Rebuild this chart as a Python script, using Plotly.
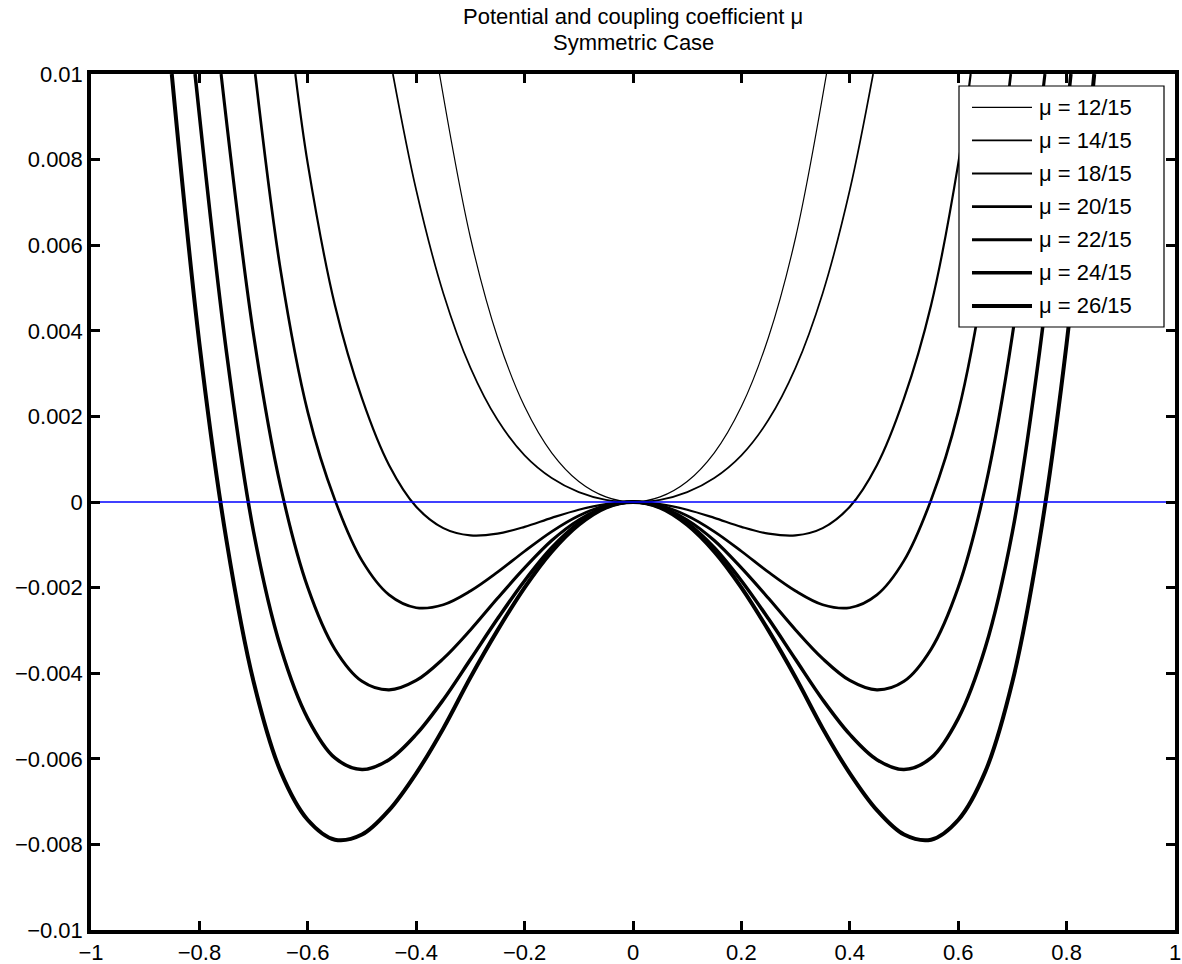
import plotly.graph_objects as go

# ---------------------------------------------------------------
# Potential curves V(x) for several coupling coefficients mu
# ---------------------------------------------------------------
mu_labels = ["μ = 12/15", "μ = 14/15", "μ = 18/15", "μ = 20/15",
             "μ = 22/15", "μ = 24/15", "μ = 26/15"]

x_12 = [-0.357, -0.3, -0.25, -0.2, -0.15, -0.1, -0.05, 0.0,
        0.05, 0.1, 0.15, 0.2, 0.25, 0.3, 0.357]
v_12 = [0.010, 0.00618, 0.00385, 0.00223, 0.00115, 0.00048, 0.00012, 0.0,
        0.00012, 0.00048, 0.00115, 0.00223, 0.00385, 0.00618, 0.010]

x_14 = [-0.443, -0.4, -0.35, -0.3, -0.25, -0.2, -0.15, -0.1, -0.05, 0.0,
        0.05, 0.1, 0.15, 0.2, 0.25, 0.3, 0.35, 0.4, 0.443]
v_14 = [0.010, 0.00729, 0.00488, 0.00314, 0.00192, 0.00109, 0.00056, 0.00023, 0.00005, 0.0,
        0.00005, 0.00023, 0.00056, 0.00109, 0.00192, 0.00314, 0.00488, 0.00729, 0.010]

x_18 = [-0.623, -0.6, -0.55, -0.5, -0.45, -0.4, -0.35, -0.3, -0.25, -0.2,
        -0.15, -0.1, -0.05, 0.0,
        0.05, 0.1, 0.15, 0.2, 0.25, 0.3, 0.35, 0.4, 0.45, 0.5,
        0.55, 0.6, 0.623]
v_18 = [0.010, 0.0079, 0.0046, 0.00242, 0.00086, -0.00011, -0.00061, -0.00078, -0.00074, -0.00058,
        -0.00037, -0.00018, -0.00005, 0.0,
        -0.00005, -0.00018, -0.00037, -0.00058, -0.00074, -0.00078, -0.00061, -0.00011, 0.00086, 0.00242,
        0.0046, 0.0079, 0.010]

x_20 = [-0.697, -0.65, -0.6, -0.55, -0.5, -0.45, -0.4, -0.35, -0.3, -0.25,
        -0.2, -0.15, -0.1, -0.05, 0.0,
        0.05, 0.1, 0.15, 0.2, 0.25, 0.3, 0.35, 0.4, 0.45, 0.5,
        0.55, 0.6, 0.65, 0.697]
v_20 = [0.010, 0.0054, 0.0021, 0.00005, -0.00137, -0.00217, -0.00247, -0.0024, -0.00208, -0.00164,
        -0.00115, -0.00069, -0.00032, -0.00008, 0.0,
        -0.00008, -0.00032, -0.00069, -0.00115, -0.00164, -0.00208, -0.0024, -0.00247, -0.00217, -0.00137,
        0.00005, 0.0021, 0.0054, 0.010]

x_22 = [-0.76, -0.7, -0.65, -0.6, -0.55, -0.5, -0.45, -0.4, -0.35, -0.3,
        -0.25, -0.2, -0.15, -0.1, -0.05, 0.0,
        0.05, 0.1, 0.15, 0.2, 0.25, 0.3, 0.35, 0.4, 0.45, 0.5,
        0.55, 0.6, 0.65, 0.7, 0.76]
v_22 = [0.010, 0.0039, 0.00035, -0.002, -0.00344, -0.00419, -0.00439, -0.00417, -0.00366, -0.00299,
        -0.00225, -0.00154, -0.0009, -0.00042, -0.00011, 0.0,
        -0.00011, -0.00042, -0.0009, -0.00154, -0.00225, -0.00299, -0.00366, -0.00417, -0.00439, -0.00419,
        -0.00344, -0.002, 0.00035, 0.0039, 0.010]

x_24 = [-0.808, -0.75, -0.7, -0.65, -0.6, -0.55, -0.5, -0.45, -0.4, -0.35,
        -0.3, -0.25, -0.2, -0.15, -0.1, -0.05, 0.0,
        0.05, 0.1, 0.15, 0.2, 0.25, 0.3, 0.35, 0.4, 0.45,
        0.5, 0.55, 0.6, 0.65, 0.7, 0.75, 0.808]
v_24 = [0.010, 0.0035, -0.0007, -0.0034, -0.00506, -0.00598, -0.00625, -0.00602, -0.00543, -0.00462,
        -0.00368, -0.00273, -0.00184, -0.00107, -0.00049, -0.00012, 0.0,
        -0.00012, -0.00049, -0.00107, -0.00184, -0.00273, -0.00368, -0.00462, -0.00543, -0.00602,
        -0.00625, -0.00598, -0.00506, -0.0034, -0.0007, 0.0035, 0.010]

x_26 = [-0.851, -0.8, -0.75, -0.7, -0.65, -0.6, -0.55, -0.5, -0.45, -0.4,
        -0.35, -0.3, -0.25, -0.2, -0.15, -0.1, -0.05, 0.0,
        0.05, 0.1, 0.15, 0.2, 0.25, 0.3, 0.35, 0.4, 0.45,
        0.5, 0.55, 0.6, 0.65, 0.7, 0.75, 0.8, 0.851]
v_26 = [0.010, 0.0037, -0.0009, -0.0042, -0.0063, -0.00743, -0.00789, -0.00777, -0.0072, -0.00634,
        -0.00529, -0.0041, -0.003, -0.002, -0.00116, -0.00053, -0.00013, 0.0,
        -0.00013, -0.00053, -0.00116, -0.002, -0.003, -0.0041, -0.00529, -0.00634, -0.0072,
        -0.00777, -0.00789, -0.00743, -0.0063, -0.0042, -0.0009, 0.0037, 0.010]

# reference level V = 0
x_zero = [-1.0, 1.0]
v_zero = [0.0, 0.0]

x_ticks = [-1, -0.8, -0.6, -0.4, -0.2, 0, 0.2, 0.4, 0.6, 0.8, 1]
x_tick_labels = ["−1", "−0.8", "−0.6", "−0.4", "−0.2", "0", "0.2", "0.4", "0.6", "0.8", "1"]
y_ticks = [0.01, 0.008, 0.006, 0.004, 0.002, 0, -0.002, -0.004, -0.006, -0.008, -0.01]
y_tick_labels = ["0.01", "0.008", "0.006", "0.004", "0.002", "0",
                 "−0.002", "−0.004", "−0.006", "−0.008", "−0.01"]

curves = [(x_12, v_12), (x_14, v_14), (x_18, v_18), (x_20, v_20),
          (x_22, v_22), (x_24, v_24), (x_26, v_26)]
widths = [1.2, 1.7, 2.2, 2.7, 3.1, 3.5, 4.0]

FONT = "Liberation Sans, Arial, Helvetica, sans-serif"
W, H = 1182, 964
L, R, T, B = 91, 1175, 74, 930          # plot area in pixels


def px_x(p):
    return (p - L) / (R - L)


def px_y(p):
    return (B - p) / (B - T)


fig = go.Figure()
for (xs, vs), w, name in zip(curves, widths, mu_labels):
    fig.add_trace(go.Scatter(x=xs, y=vs, mode="lines", name=name,
                             line=dict(color="black", width=w, shape="spline", smoothing=1.0),
                             showlegend=False, hoverinfo="skip"))
fig.add_trace(go.Scatter(x=x_zero, y=v_zero, mode="lines",
                         line=dict(color="#0000ff", width=1.5),
                         showlegend=False, hoverinfo="skip"))

axis_common = dict(showgrid=False, zeroline=False, showline=True, linecolor="black",
                   linewidth=3.5, mirror="ticks", ticks="inside", ticklen=9,
                   tickwidth=2.5, tickcolor="black", automargin=False,
                   tickfont=dict(family=FONT, size=22, color="black"))

fig.update_xaxes(range=[-1, 1], tickvals=x_ticks, ticktext=x_tick_labels, **axis_common)
fig.update_yaxes(range=[-0.01, 0.01], tickvals=y_ticks, ticktext=y_tick_labels, **axis_common)

# hand-built legend box (long line samples, MATLAB style)
shapes = [dict(type="rect", xref="paper", yref="paper",
               x0=px_x(959), x1=px_x(1164), y0=px_y(327), y1=px_y(86),
               line=dict(color="black", width=1.2), fillcolor="white", layer="above")]
annotations = []
for i, (name, w) in enumerate(zip(mu_labels, widths)):
    row = 107.3 + 33.1 * i
    shapes.append(dict(type="line", xref="paper", yref="paper",
                       x0=px_x(972), x1=px_x(1032), y0=px_y(row), y1=px_y(row),
                       line=dict(color="black", width=w), layer="above"))
    annotations.append(dict(xref="paper", yref="paper", x=px_x(1037), y=px_y(row),
                            text=name, showarrow=False, xanchor="left", yanchor="middle",
                            font=dict(family=FONT, size=22, color="black")))

annotations.append(dict(xref="paper", yref="paper", x=0.5, y=px_y(17),
                        text="Potential and coupling coefficient μ", showarrow=False,
                        xanchor="center", yanchor="middle",
                        font=dict(family=FONT, size=22, color="black")))
annotations.append(dict(xref="paper", yref="paper", x=0.5, y=px_y(43),
                        text="Symmetric Case", showarrow=False,
                        xanchor="center", yanchor="middle",
                        font=dict(family=FONT, size=22, color="black")))

fig.update_layout(width=W, height=H,
                  margin=dict(l=L, r=W - R, t=T, b=H - B, pad=0, autoexpand=False),
                  plot_bgcolor="white", paper_bgcolor="white",
                  shapes=shapes, annotations=annotations, showlegend=False)

fig.write_html("out.html")
